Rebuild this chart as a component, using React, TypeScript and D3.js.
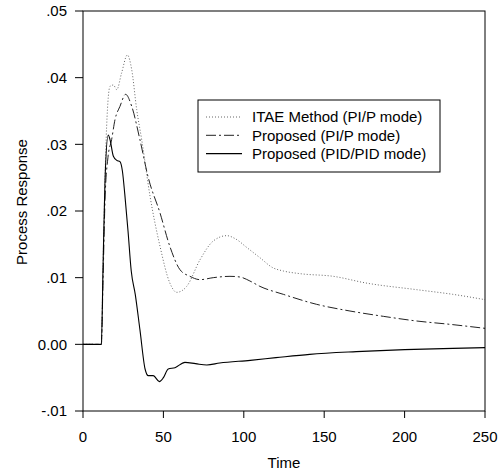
import React from "react";
import * as d3 from "d3";

const xTicks = [0, 50, 100, 150, 200, 250];
const yTicks = [0.05, 0.04, 0.03, 0.02, 0.01, 0.0, -0.01];
const yTickLabels = [".05", ".04", ".03", ".02", ".01", "0.00", "-.01"];

const seriesNames = ["ITAE Method (PI/P mode)", "Proposed (PI/P mode)", "Proposed (PID/PID mode)"];

const itaeTime = [0, 11.4, 12.5, 13.7, 14.7, 16.8, 18.9, 21, 24, 27.6, 30.3, 33.4, 36.5, 41.7, 47.9, 54, 58.3, 64.5, 72.8, 81, 89.4, 95, 102, 110, 118, 124.6, 135, 155.7, 176, 207.5, 230, 250];
const itaeValue = [0, 0, 0.012, 0.025, 0.0327, 0.0387, 0.0389, 0.0382, 0.0407, 0.0434, 0.0412, 0.0352, 0.0307, 0.0222, 0.0147, 0.0092, 0.0078, 0.0087, 0.0127, 0.0155, 0.0163, 0.0158, 0.0145, 0.013, 0.0115, 0.011, 0.0106, 0.0102, 0.0092, 0.0082, 0.0075, 0.0067];

const piTime = [0, 11.4, 12.5, 13.7, 15.5, 17.8, 19.9, 23, 26.5, 30.3, 35.4, 40.6, 47.9, 54, 60.3, 66.5, 72.8, 81, 91.4, 97.6, 103.8, 110, 124.6, 145.3, 166, 186.8, 207.5, 228.2, 250];
const piValue = [0, 0, 0.01, 0.0217, 0.028, 0.0307, 0.0337, 0.0357, 0.0375, 0.0357, 0.0307, 0.025, 0.0197, 0.0147, 0.0112, 0.0102, 0.0097, 0.01, 0.0102, 0.0101, 0.0095, 0.0087, 0.0075, 0.006, 0.005, 0.0042, 0.0035, 0.003, 0.0024];

const pidTime = [0, 11.4, 12.5, 13.7, 15.7, 16.8, 18.9, 21, 23, 24.5, 26, 28, 30, 32.5, 35.4, 38.6, 40.6, 43.7, 47.5, 50, 53, 57.2, 63.4, 70, 77, 85, 104, 120, 141, 170, 200, 230, 250];
const pidValue = [0, 0, 0.012, 0.0247, 0.0314, 0.0307, 0.0282, 0.0276, 0.0274, 0.026, 0.0225, 0.017, 0.011, 0.0075, 0.0022, -0.0037, -0.0047, -0.0047, -0.0056, -0.005, -0.0037, -0.0035, -0.0027, -0.0029, -0.0031, -0.0028, -0.0024, -0.002, -0.0015, -0.0011, -0.0008, -0.0006, -0.0005];

const W = 504, H = 475;
const L = 83, R = 485, T = 11, B = 411;
const FONT = "'Liberation Sans', Arial, Helvetica, sans-serif";

export default function App() {
  const x = d3.scaleLinear().domain([0, 250]).range([L, R]);
  const y = d3.scaleLinear().domain([-0.01, 0.05]).range([B, T]);
  const line = d3
    .line<[number, number]>()
    .x((d) => x(d[0]))
    .y((d) => y(d[1]))
    .curve(d3.curveMonotoneX);

  const series = [
    { name: seriesNames[0], t: itaeTime, v: itaeValue, stroke: "#666", dash: "1,2", width: 1 },
    { name: seriesNames[1], t: piTime, v: piValue, stroke: "#222", dash: "10,3,2,3", width: 1 },
    { name: seriesNames[2], t: pidTime, v: pidValue, stroke: "#000", dash: "", width: 1.1 },
  ];

  const legX = 198, legY = 100, legW = 242, legH = 72;

  return (
    <svg width={W} height={H} style={{ position: "absolute", left: 0, top: 0, background: "#fff" }} fontFamily={FONT}>
      <rect x={0} y={0} width={W} height={H} fill="#fff" />
      {series.map((s) => (
        <path
          key={s.name}
          d={line(s.t.map((t, i) => [t, s.v[i]] as [number, number])) || ""}
          fill="none"
          stroke={s.stroke}
          strokeWidth={s.width}
          strokeDasharray={s.dash || undefined}
        />
      ))}
      <rect x={L} y={T} width={R - L} height={B - T} fill="none" stroke="#000" strokeWidth={1} />
      {yTicks.map((v, i) => (
        <g key={"y" + i}>
          <line x1={L - 8} x2={L} y1={y(v)} y2={y(v)} stroke="#000" />
          <text x={L - 16} y={y(v)} dy="0.35em" textAnchor="end" fontSize={15} fill="#000">
            {yTickLabels[i]}
          </text>
        </g>
      ))}
      {xTicks.map((v) => (
        <g key={"x" + v}>
          <line x1={x(v)} x2={x(v)} y1={B} y2={B + 7} stroke="#000" />
          <text x={x(v)} y={B + 31} textAnchor="middle" fontSize={15} fill="#000">
            {v}
          </text>
        </g>
      ))}
      <text x={(L + R) / 2} y={468} textAnchor="middle" fontSize={15} fill="#000">
        Time
      </text>
      <text
        transform={`translate(27, 202) rotate(-90)`}
        textAnchor="middle"
        fontSize={15}
        fill="#000"
      >
        Process Response
      </text>
      <rect x={legX} y={legY} width={legW} height={legH} fill="#fff" stroke="#000" strokeWidth={1} />
      {series.map((s, i) => {
        const ry = 117 + i * 18.3;
        return (
          <g key={"leg" + i}>
            <line x1={206} x2={242} y1={ry} y2={ry} stroke={s.stroke} strokeWidth={s.width} strokeDasharray={s.dash || undefined} />
            <text x={252} y={ry} dy="0.35em" fontSize={15} fill="#000">
              {s.name}
            </text>
          </g>
        );
      })}
    </svg>
  );
}
